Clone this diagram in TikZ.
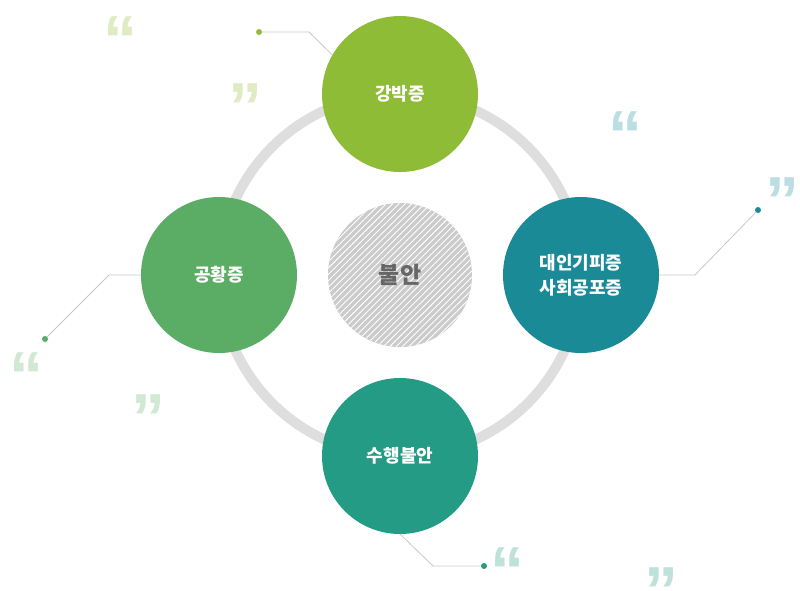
\documentclass[tikz,border=0pt]{standalone}
\usepackage{fontspec}
\setmainfont{Noto Sans CJK KR}
\newfontfamily\qtfont{Liberation Sans}
\usepackage{xcolor}
\usetikzlibrary{positioning,patterns.meta}
\definecolor{kgreen}{HTML}{8FBC36}
\definecolor{kteal}{HTML}{1B8A97}
\definecolor{kjade}{HTML}{249B84}
\definecolor{kleaf}{HTML}{5BAD66}
\definecolor{kring}{HTML}{DEDEDE}
\definecolor{kcore}{HTML}{CBCBCB}
\definecolor{kcoretext}{HTML}{666666}
\definecolor{klead}{HTML}{C8C8C8}
\definecolor{qgreen}{HTML}{DFEBC3}
\definecolor{qteal}{HTML}{BBDEE2}
\definecolor{qleaf}{HTML}{D1E8D3}
\definecolor{qjade}{HTML}{BEE2DA}

\begin{document}
\begin{tikzpicture}[x=1pt, y=1pt,
  kring/.style={draw=kring, line width=10pt},
  kcat/.style={circle, minimum size=156pt, inner sep=0pt, outer sep=0pt, align=center, font=\fontsize{18}{25}\selectfont\bfseries\color{white}},
  kcore/.style={circle, minimum size=144pt, inner sep=0pt, outer sep=0pt, fill=kcore, postaction={pattern={Lines[angle=45, distance=4.5pt, line width=0.9pt]}, pattern color=white}, font=\fontsize{23}{26}\selectfont\bfseries\color{kcoretext}},
  klead/.style={draw=klead, line width=0.8pt},
  kdot/.style={circle, minimum size=6pt, inner sep=0pt, outer sep=0pt},
  kquote/.style={anchor=north, inner sep=0pt, text depth=-28pt, font=\qtfont\bfseries\fontsize{68}{68}\selectfont},
]
\useasboundingbox (-400,-315) rectangle (400,275);
\draw[kring] (0,0) circle[radius=181];
\node[kcore] (buran) at (0,0) {불안};
\node[kcat, fill=kgreen, above=31pt of buran] (kang) {강박증};
\node[kcat, fill=kteal, right=31pt of buran] (daein) {대인기피증\\사회공포증};
\node[kcat, fill=kjade, below=31pt of buran] (suhaeng) {수행불안};
\node[kcat, fill=kleaf, left=31pt of buran] (gonghwang) {공황증};
\node[kdot, fill=kgreen] (kangdot) at (-141,243) {};
\node[kdot, fill=kteal] (daeindot) at (358,65) {};
\node[kdot, fill=kjade] (suhaengdot) at (84,-291) {};
\node[kdot, fill=kleaf] (gonghwangdot) at (-355,-64) {};
\coordinate (kangbend) at (-91,243);
\coordinate (daeinbend) at (295,0);
\coordinate (suhaengbend) at (33,-291);
\coordinate (gonghwangbend) at (-291,0);
\draw[klead] (kangdot) -- (kangbend) -- (kang.150);
\draw[klead] (daein.east) -- (daeinbend) -- (daeindot);
\draw[klead] (suhaeng.south) -- (suhaengbend) -- (suhaengdot);
\draw[klead] (gonghwang.west) -- (gonghwangbend) -- (gonghwangdot);
\node[kquote, text=qgreen] (kangopen) at (-279,258) {“};
\node[kquote, text=qgreen] (kangclose) at (-154,191) {”};
\node[kquote, text=qteal] (daeinopen) at (225,163) {“};
\node[kquote, text=qteal, anchor=north east] (daeinclose) at (400,97) {”};
\node[kquote, text=qleaf] (gonghwangopen) at (-373,-78) {“};
\node[kquote, text=qleaf] (gonghwangclose) at (-251,-120) {”};
\node[kquote, text=qjade] (suhaengopen) at (107,-273) {“};
\node[kquote, text=qjade] (suhaengclose) at (261,-293) {”};
\end{tikzpicture}
\end{document}
